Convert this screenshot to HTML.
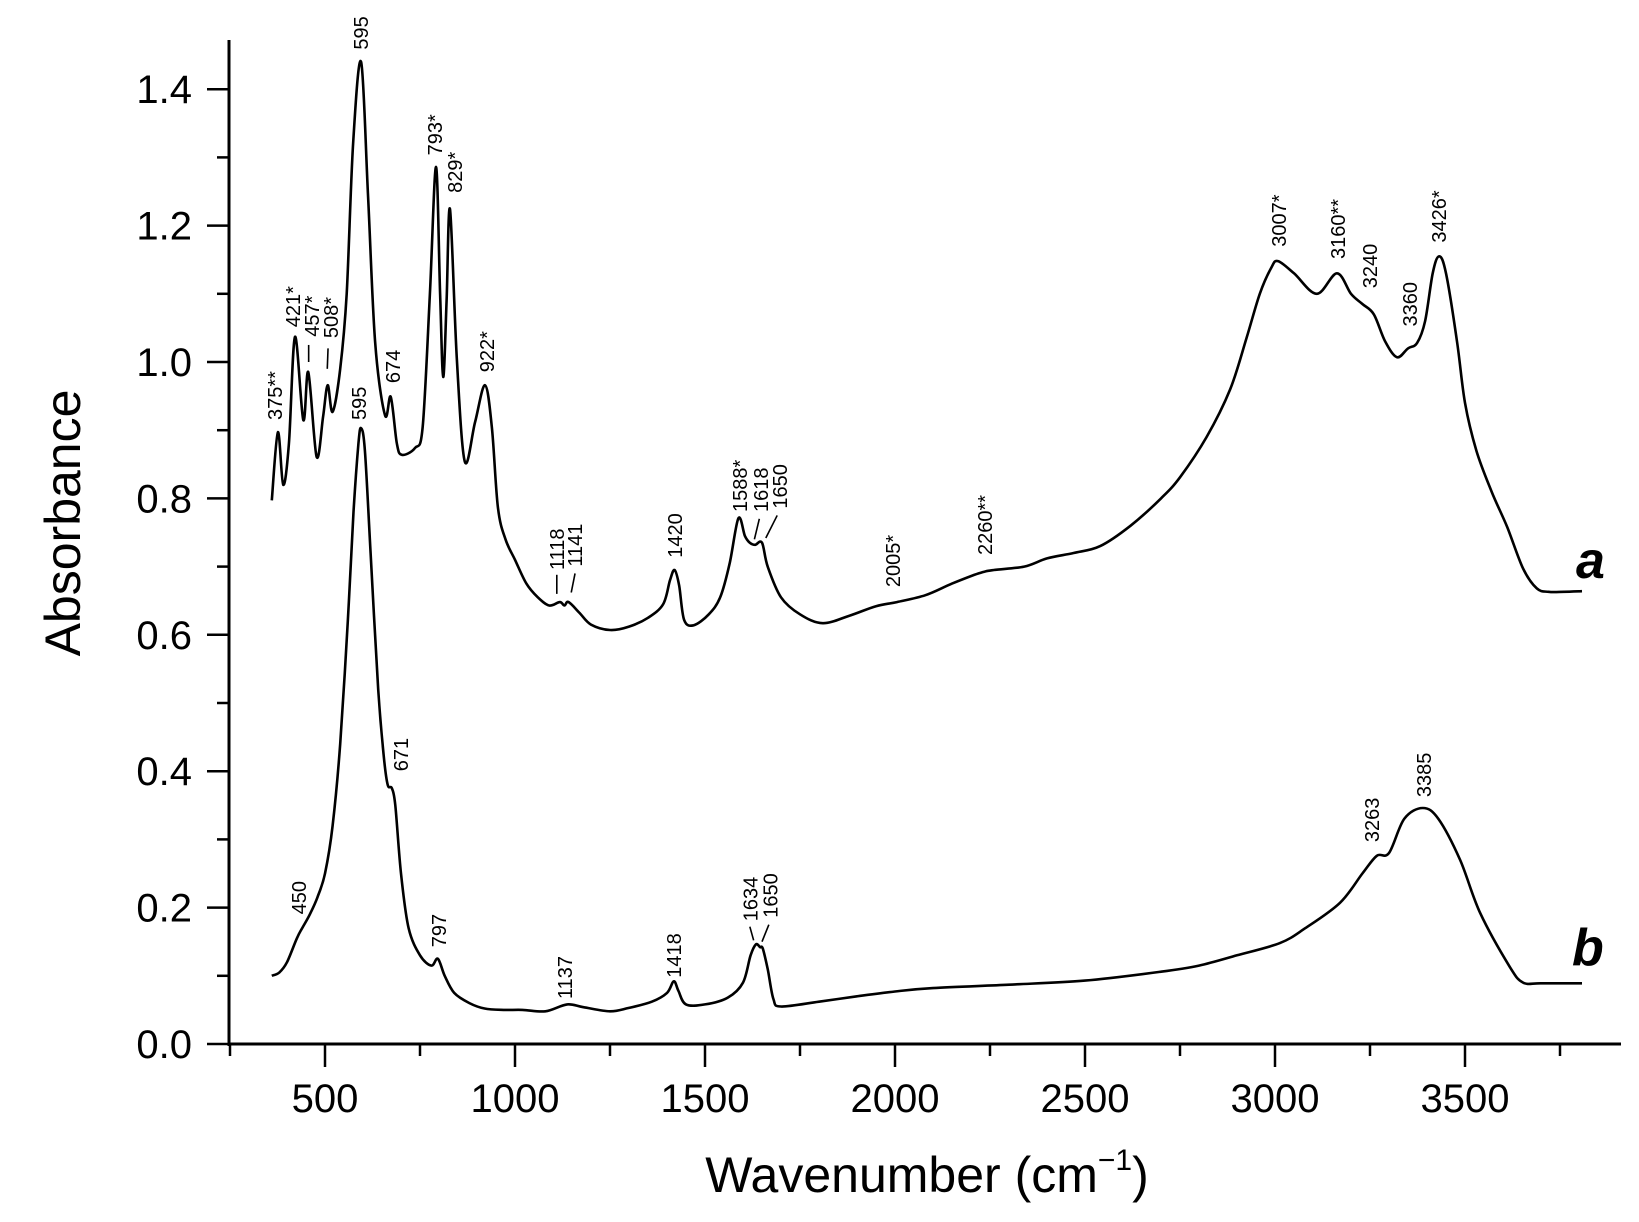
<!DOCTYPE html>
<html><head><meta charset="utf-8"><style>
html,body{margin:0;padding:0;background:#fff;}
svg{display:block;font-family:"Liberation Sans",sans-serif;}
</style></head><body>
<svg id="chart" width="1639" height="1222" viewBox="0 0 1639 1222" xmlns="http://www.w3.org/2000/svg">
<g id="axes"></g>
<g id="series"></g>
<g id="labels"></g>
<text transform="translate(80,523) rotate(-90)" text-anchor="middle" font-size="50">Absorbance</text>
<text x="927" y="1192" text-anchor="middle" font-size="50">Wavenumber (cm<tspan font-size="30" dy="-22">−1</tspan><tspan dy="22">)</tspan></text>
<text x="1576" y="578" font-size="52" font-weight="bold" font-style="italic">a</text>
<text x="1572" y="965" font-size="52" font-weight="bold" font-style="italic">b</text>
</svg>
<script>
const xTicks=[500,1000,1500,2000,2500,3000,3500];
const xMinor=[250,750,1250,1750,2250,2750,3250,3750];
const yTicks=[0,0.2,0.4,0.6,0.8,1.0,1.2,1.4];
const yTickLabels=["0.0","0.2","0.4","0.6","0.8","1.0","1.2","1.4"];
const yMinor=[0.1,0.3,0.5,0.7,0.9,1.1,1.3];
const waveA=[360,376,390,405,421,443,456,478,495,507,520,540,557,574,595,613,632,658,673,689,702,737,757,776,792,803,811,820,829,847,868,895,921,939,955,975,1000,1030,1060,1090,1118,1130,1141,1170,1200,1250,1300,1350,1390,1408,1420,1432,1445,1470,1510,1540,1565,1588,1605,1618,1632,1650,1665,1700,1750,1810,1880,1950,2005,2080,2150,2220,2260,2340,2400,2470,2540,2620,2700,2750,2820,2882,2925,2960,2990,3008,3050,3110,3163,3200,3230,3260,3290,3321,3350,3374,3395,3415,3432,3450,3479,3500,3530,3570,3611,3653,3689,3720,3760,3808];
const absA=[0.797,0.897,0.82,0.88,1.037,0.915,0.985,0.861,0.92,0.966,0.927,0.99,1.10,1.32,1.44,1.248,1.028,0.922,0.949,0.881,0.864,0.874,0.905,1.10,1.286,1.10,0.978,1.09,1.224,1.003,0.854,0.912,0.966,0.905,0.787,0.74,0.71,0.675,0.655,0.643,0.648,0.643,0.648,0.632,0.615,0.607,0.612,0.625,0.645,0.68,0.695,0.672,0.622,0.614,0.63,0.655,0.705,0.771,0.745,0.735,0.732,0.735,0.70,0.655,0.63,0.617,0.628,0.642,0.648,0.658,0.675,0.69,0.695,0.70,0.712,0.72,0.73,0.76,0.80,0.831,0.89,0.96,1.035,1.10,1.138,1.148,1.13,1.10,1.13,1.10,1.085,1.07,1.03,1.007,1.02,1.028,1.06,1.13,1.155,1.13,1.03,0.94,0.87,0.81,0.758,0.697,0.668,0.663,0.663,0.664];
const waveB=[360,380,400,426,440,460,480,500,520,540,560,575,588,595,605,620,640,655,665,676,685,700,720,750,780,797,815,840,880,920,970,1020,1080,1137,1180,1250,1300,1360,1400,1418,1430,1450,1500,1560,1600,1620,1634,1645,1652,1665,1680,1700,1800,1900,2000,2100,2300,2500,2700,2800,2900,3013,3080,3171,3230,3268,3300,3340,3389,3430,3487,3540,3618,3653,3700,3808];
const absB=[0.10,0.105,0.12,0.155,0.17,0.19,0.215,0.25,0.32,0.44,0.62,0.78,0.88,0.903,0.87,0.72,0.52,0.42,0.38,0.375,0.35,0.25,0.17,0.13,0.115,0.125,0.10,0.075,0.06,0.052,0.05,0.05,0.048,0.058,0.054,0.048,0.053,0.062,0.075,0.092,0.078,0.058,0.058,0.068,0.09,0.13,0.146,0.142,0.14,0.11,0.066,0.055,0.062,0.07,0.077,0.082,0.087,0.093,0.106,0.115,0.13,0.148,0.17,0.207,0.25,0.276,0.28,0.33,0.346,0.33,0.27,0.192,0.113,0.09,0.089,0.089];
const labelText=["375**","421*","457*","508*","595","674","793*","829*","922*","1118","1141","1420","1588*","1618","1650","2005*","2260**","3007*","3160**","3240","3360","3426*","595","671","450","797","1137","1418","1634","1650","3263","3385"];
const labelWave=[368,416,466,516,595,679,790,842,926,1110,1158,1421,1592,1647,1697,1995,2237,3011,3166,3250,3355,3432,590,700,432,800,1131,1418,1620,1672,3255,3392];
const labelAbs=[0.915,1.051,1.037,1.035,1.458,0.969,1.303,1.248,0.985,0.695,0.70,0.713,0.78,0.78,0.785,0.67,0.717,1.169,1.151,1.108,1.052,1.175,0.915,0.40,0.19,0.142,0.066,0.097,0.18,0.185,0.296,0.362];
const NS="http://www.w3.org/2000/svg";
function X(w){return 325+(w-500)*0.38;}
function Y(a){return 1044-a*682;}
function mk(tag,attrs,parent){const e=document.createElementNS(NS,tag);for(const k in attrs)e.setAttribute(k,attrs[k]);parent.appendChild(e);return e;}
const axes=document.getElementById('axes');
let e=mk('line',{x1:229,y1:1044,x2:1621,y2:1044,stroke:'#000','stroke-width':3},axes);


e=mk('line',{x1:229,y1:40,x2:229,y2:1046,stroke:'#000','stroke-width':3},axes);


xTicks.forEach(t=>{
 let l=mk('line',{x1:X(t),y1:1044,x2:X(t),y2:1067,stroke:'#000','stroke-width':2.5},axes);
 
 
 let tx=mk('text',{x:X(t),y:1112,'text-anchor':'middle','font-size':40},axes);tx.textContent=t;
 
 
});
xMinor.forEach(t=>{
 let l=mk('line',{x1:X(t),y1:1044,x2:X(t),y2:1056,stroke:'#000','stroke-width':2.5},axes);
 
 
});
yTicks.forEach((t,i)=>{
 let l=mk('line',{x1:207,y1:Y(t),x2:229,y2:Y(t),stroke:'#000','stroke-width':2.5},axes);
 
 
 let tx=mk('text',{x:192,y:Y(t)+14,'text-anchor':'end','font-size':40},axes);tx.textContent=yTickLabels[i];
 
 
});
yMinor.forEach(t=>{
 let l=mk('line',{x1:217,y1:Y(t),x2:229,y2:Y(t),stroke:'#000','stroke-width':2.5},axes);
 
 
});
function pathFor(ws,as){
 const p=ws.map((w,i)=>[X(w),Y(as[i])]);
 let d='M'+p[0][0].toFixed(1)+','+p[0][1].toFixed(1);
 for(let i=0;i<p.length-1;i++){
  const p0=p[Math.max(0,i-1)],p1=p[i],p2=p[i+1],p3=p[Math.min(p.length-1,i+2)];
  const c1=[p1[0]+(p2[0]-p0[0])/6,p1[1]+(p2[1]-p0[1])/6];
  const c2=[p2[0]-(p3[0]-p1[0])/6,p2[1]-(p3[1]-p1[1])/6];
  d+='C'+c1[0].toFixed(1)+','+c1[1].toFixed(1)+' '+c2[0].toFixed(1)+','+c2[1].toFixed(1)+' '+p2[0].toFixed(1)+','+p2[1].toFixed(1);
 }
 return d;
}
const series=document.getElementById('series');
let pa=mk('path',{d:pathFor(waveA,absA),fill:'none',stroke:'#000','stroke-width':2.6,'stroke-linejoin':'round'},series);


let pb=mk('path',{d:pathFor(waveB,absB),fill:'none',stroke:'#000','stroke-width':2.6,'stroke-linejoin':'round'},series);


const labels=document.getElementById('labels');
labelText.forEach((s,i)=>{
 const x=X(labelWave[i])+7,y=Y(labelAbs[i]);
 let t=mk('text',{transform:'translate('+x.toFixed(1)+','+y.toFixed(1)+') rotate(-90)','font-size':20},labels);
 t.textContent=s;
 
 
});
const leaders=[[457,1.025,457,1.0],[508,1.02,506,0.99],[1110,0.688,1110,0.66],[1158,0.69,1148,0.662],[1643,0.77,1630,0.74],[1690,0.775,1660,0.742],[1618,0.172,1628,0.152],[1668,0.175,1650,0.15]];
leaders.forEach(l=>{
 let ln=mk('line',{x1:X(l[0]),y1:Y(l[1]),x2:X(l[2]),y2:Y(l[3]),stroke:'#000','stroke-width':1.6},labels);
 
 
});
</script>
</body></html>
